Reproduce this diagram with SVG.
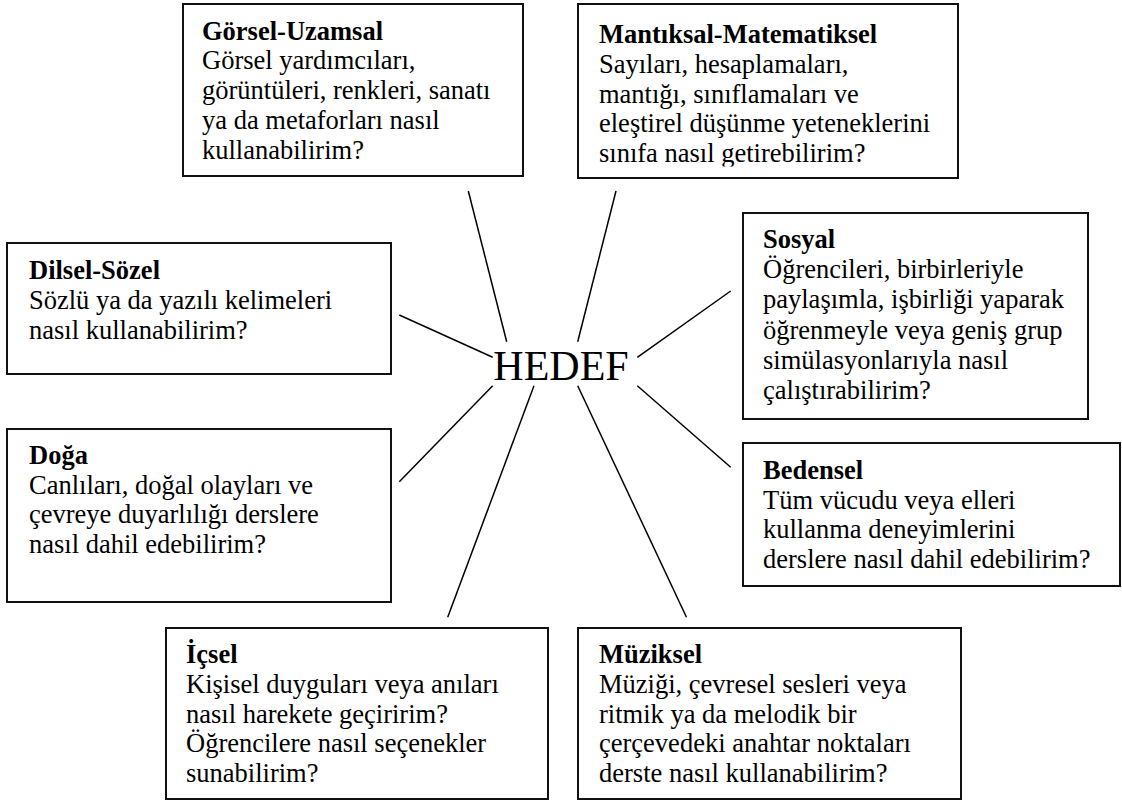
<svg xmlns="http://www.w3.org/2000/svg" width="1122" height="801" viewBox="0 0 1122 801">
<defs>
<clipPath id="clipM" clipPathUnits="userSpaceOnUse"><rect x="1156" y="0" width="760" height="333"/></clipPath>
</defs>
<rect width="1122" height="801" fill="#fff"/>
<g id="connectors" stroke="#000" stroke-width="1.5" fill="none">
<line x1="468.3" y1="191" x2="506.7" y2="341.7"/>
<line x1="616" y1="191" x2="577.7" y2="341.7"/>
<line x1="399.3" y1="315" x2="492.7" y2="357.3"/>
<line x1="730.7" y1="291" x2="637.3" y2="357.3"/>
<line x1="399.3" y1="481.7" x2="492.7" y2="385.7"/>
<line x1="534" y1="385.7" x2="447.7" y2="617.3"/>
<line x1="577.7" y1="385.7" x2="686.5" y2="617.3"/>
<line x1="637.3" y1="385.7" x2="730.7" y2="467.3"/>
</g>
<g id="boxes" fill="#fff" stroke="#111" stroke-width="2">
<rect id="gorsel-box" x="183" y="4" width="340" height="172"/>
<rect id="mantiksal-box" x="578" y="4" width="380" height="174"/>
<rect id="dilsel-box" x="7" y="243" width="384" height="131"/>
<rect id="sosyal-box" x="743" y="213" width="345" height="206"/>
<rect id="doga-box" x="7" y="429" width="384" height="173"/>
<rect id="bedensel-box" x="743" y="443" width="377" height="143"/>
<rect id="icsel-box" x="166" y="628" width="382" height="171"/>
<rect id="muziksel-box" x="578" y="628" width="383" height="171"/>
</g>
<text id="hedef" x="561" y="380" text-anchor="middle" font-family="Liberation Serif" font-size="42">HEDEF</text>
<g id="labels" transform="scale(0.5)" font-family="Liberation Serif" font-size="53" fill="#000">
<text id="gorsel" x="404" y="79"><tspan font-weight="bold">Görsel-Uzamsal</tspan><tspan x="404" dy="59.6">Görsel yardımcıları,</tspan><tspan x="404" dy="59.6">görüntüleri, renkleri, sanatı</tspan><tspan x="404" dy="59.6">ya da metaforları nasıl</tspan><tspan x="404" dy="59.6">kullanabilirim?</tspan></text>
<text id="mantiksal" x="1198" y="86" clip-path="url(#clipM)"><tspan font-weight="bold">Mantıksal-Matematiksel</tspan><tspan x="1198" dy="59.5">Sayıları, hesaplamaları,</tspan><tspan x="1198" dy="59.5">mantığı, sınıflamaları ve</tspan><tspan x="1198" dy="59.5">eleştirel düşünme yeteneklerini</tspan><tspan x="1198" dy="59.5">sınıfa nasıl getirebilirim?</tspan></text>
<text id="dilsel" x="58" y="558"><tspan font-weight="bold">Dilsel-Sözel</tspan><tspan x="58" dy="60">Sözlü ya da yazılı kelimeleri</tspan><tspan x="58" dy="60">nasıl kullanabilirim?</tspan></text>
<text id="sosyal" x="1526" y="496"><tspan font-weight="bold">Sosyal</tspan><tspan x="1526" dy="60.4">Öğrencileri, birbirleriyle</tspan><tspan x="1526" dy="60.4">paylaşımla, işbirliği yaparak</tspan><tspan x="1526" dy="60.4">öğrenmeyle veya geniş grup</tspan><tspan x="1526" dy="60.4">simülasyonlarıyla nasıl</tspan><tspan x="1526" dy="60.4">çalıştırabilirim?</tspan></text>
<text id="doga" x="58" y="928"><tspan font-weight="bold">Doğa</tspan><tspan x="58" dy="59.4">Canlıları, doğal olayları ve</tspan><tspan x="58" dy="59.4">çevreye duyarlılığı derslere</tspan><tspan x="58" dy="59.4">nasıl dahil edebilirim?</tspan></text>
<text id="bedensel" x="1526" y="958"><tspan font-weight="bold">Bedensel</tspan><tspan x="1526" dy="59.4">Tüm vücudu veya elleri</tspan><tspan x="1526" dy="59.4">kullanma deneyimlerini</tspan><tspan x="1526" dy="59.4">derslere nasıl dahil edebilirim?</tspan></text>
<text id="icsel" x="372" y="1326"><tspan font-weight="bold">İçsel</tspan><tspan x="372" dy="59.6">Kişisel duyguları veya anıları</tspan><tspan x="372" dy="59.6">nasıl harekete geçiririm?</tspan><tspan x="372" dy="59.6">Öğrencilere nasıl seçenekler</tspan><tspan x="372" dy="59.6">sunabilirim?</tspan></text>
<text id="muziksel" x="1198" y="1326"><tspan font-weight="bold">Müziksel</tspan><tspan x="1198" dy="59.6">Müziği, çevresel sesleri veya</tspan><tspan x="1198" dy="59.6">ritmik ya da melodik bir</tspan><tspan x="1198" dy="59.6">çerçevedeki anahtar noktaları</tspan><tspan x="1198" dy="59.6">derste nasıl kullanabilirim?</tspan></text>
</g>
</svg>
